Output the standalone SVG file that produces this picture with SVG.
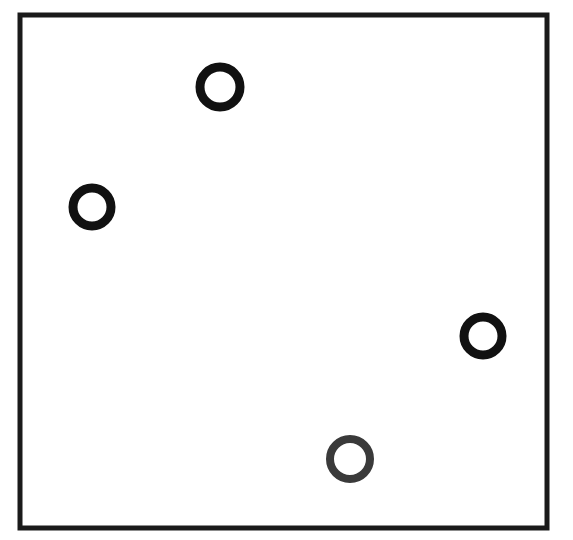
<svg xmlns="http://www.w3.org/2000/svg" width="573" height="540" viewBox="0 0 573 540">
<style>
.frame{fill:none;stroke:#1a1a1a;stroke-width:5}
.ring{fill:#fff;stroke:#111;stroke-width:9}
.light{stroke:#3a3a3a;stroke-width:8}
</style>
<rect width="573" height="540" fill="#fff"/>
<g id="frame"><rect class="frame" x="20" y="15" width="527" height="513"/></g>
<g id="connectors"></g>
<g id="circle1"><circle class="ring" cx="220" cy="87" r="20"/></g>
<g id="circle2"><circle class="ring" cx="92" cy="207" r="19"/></g>
<g id="circle3"><circle class="ring" cx="483" cy="336" r="19"/></g>
<g id="circle4"><circle class="ring light" cx="350" cy="459" r="20"/></g>
</svg>
